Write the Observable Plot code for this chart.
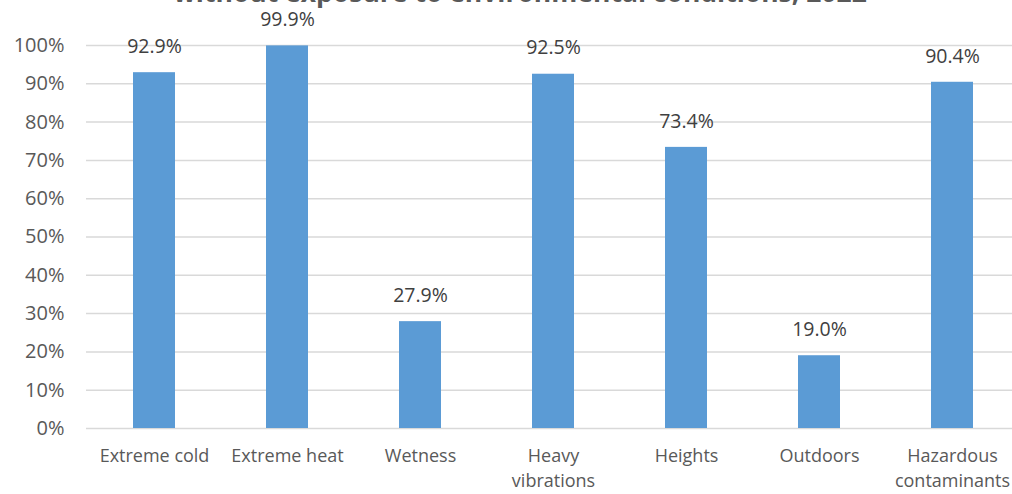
<!DOCTYPE html>
<html>
<head>
<meta charset="utf-8">
<script src="https://cdn.jsdelivr.net/npm/d3@7"></script>
<script src="https://cdn.jsdelivr.net/npm/@observablehq/plot@0.6"></script>
<style>
  html, body { margin: 0; padding: 0; background: #fff; overflow: hidden; }
  #wrap { position: relative; width: 1012px; height: 494px; }
  #title { position: absolute; left: 0; width: 1040px; top: -23px; text-align: center;
    font-family: "Open Sans", sans-serif; font-weight: bold; font-size: 26.5px; color: #595959;
    white-space: nowrap; line-height: 30px; z-index: 2; }
  #chart svg { display: block; }
</style>
</head>
<body>
<div id="wrap">
  <div id="title">without exposure to environmental conditions, 2022</div>
  <div id="chart"></div>
</div>
<script>
const categories = ["Extreme cold", "Extreme heat", "Wetness", "Heavy vibrations", "Heights", "Outdoors", "Hazardous contaminants"];
const tickLabels = ["Extreme cold", "Extreme heat", "Wetness", "Heavy\nvibrations", "Heights", "Outdoors", "Hazardous\ncontaminants"];
const values = [0.929, 0.999, 0.279, 0.925, 0.734, 0.190, 0.904];
const yTicks = [0, 0.1, 0.2, 0.3, 0.4, 0.5, 0.6, 0.7, 0.8, 0.9, 1.0];

const data = categories.map((c, i) => ({category: c, value: values[i]}));
const labelOf = new Map(categories.map((c, i) => [c, tickLabels[i]]));

const chart = Plot.plot({
  width: 1012,
  height: 494,
  marginLeft: 86,
  marginRight: 0,
  marginTop: 45,
  marginBottom: 66,
  style: {fontFamily: "Open Sans, sans-serif", fontSize: "16px", color: "#595959", background: "#fff"},
  x: {domain: categories, range: [86, 1020], paddingInner: 0.685, paddingOuter: 0.3425, label: null},
  y: {domain: [0, 1], label: null},
  marks: [
    Plot.gridY(yTicks, {stroke: "#d9d9d9", strokeOpacity: 1, strokeWidth: 1.5}),
    Plot.barY(data, {x: "category", y: "value", fill: "#5b9bd5"}),
    Plot.text(data, {x: "category", y: "value", text: d => (d.value * 100).toFixed(1) + "%",
      dy: -26, lineAnchor: "middle", fill: "#404040", fontSize: 19.5}),
    Plot.axisY(yTicks, {tickSize: 0, tickPadding: 22, tickFormat: d => Math.round(d * 100) + "%",
      fontSize: 20, fill: "#595959"}),
    Plot.axisX({tickSize: 0, tickPadding: 16, tickFormat: d => labelOf.get(d),
      fontSize: 18, fill: "#595959", lineHeight: 1.38})
  ]
});
document.getElementById("chart").appendChild(chart);
</script>
</body>
</html>
